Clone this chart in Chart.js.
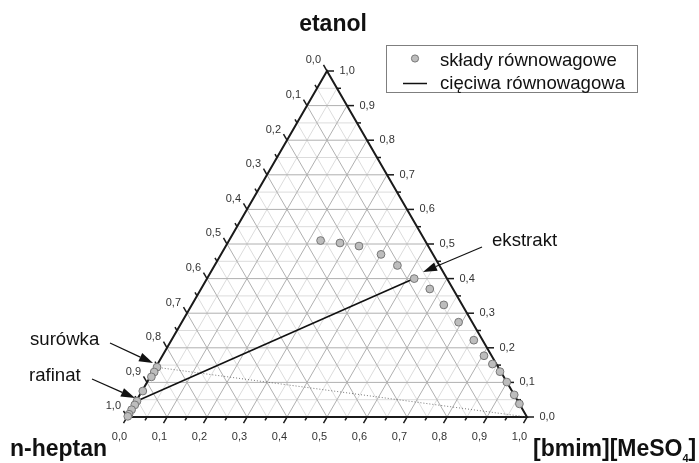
<!DOCTYPE html>
<html>
<head>
<meta charset="utf-8">
<script src="https://cdn.jsdelivr.net/npm/chart.js@4.4.1/dist/chart.umd.min.js"></script>
<style>
  html, body { margin: 0; padding: 0; background: #fff; }
  #wrap { width: 699px; height: 463px; }
</style>
</head>
<body>
<div id="wrap"><canvas id="ternary" width="699" height="463"></canvas></div>
<script>
// Mole fractions: [bmim][MeSO4] (b) and etanol (e), n-heptan = 1 - b - e
const raffinateBmim = [0.003, 0.003, 0.003, 0.002, 0.002, 0.002, 0.001, 0.001, 0.001]
const raffinateEtanol = [0.144, 0.130, 0.116, 0.075, 0.046, 0.035, 0.021, 0.008, 0.002]

const extractBmim = [0.229, 0.281, 0.333, 0.400, 0.457, 0.518, 0.572, 0.630, 0.692, 0.756, 0.804, 0.837, 0.867, 0.899, 0.936, 0.962]
const extractEtanol = [0.510, 0.503, 0.494, 0.470, 0.438, 0.400, 0.370, 0.324, 0.274, 0.222, 0.177, 0.153, 0.131, 0.101, 0.064, 0.038]

// tie line (rafinat -> ekstrakt) and feed line (surówka -> solvent vertex)
const tieLineBmim = [0.002, 0.518]
const tieLineEtanol = [0.046, 0.400]
const feedLineBmim = [0.0, 1.0]
const feedLineEtanol = [0.144, 0.0]

const tickLabels = ['0,0', '0,1', '0,2', '0,3', '0,4', '0,5', '0,6', '0,7', '0,8', '0,9', '1,0']

const H = Math.sqrt(3) / 2
const FONT = '"Liberation Sans", Arial, Helvetica, sans-serif'

// ternary composition -> cartesian data coordinates
function toXY (b, e) {
  return { x: b + e / 2, y: e * H }
}

function buildPoints (bs, es) {
  return bs.map((b, i) => toXY(b, es[i]))
}

const ternaryPlugin = {
  id: 'ternary',
  px (chart, b, e) {
    const p = toXY(b, e)
    return [chart.scales.x.getPixelForValue(p.x), chart.scales.y.getPixelForValue(p.y)]
  },
  line (ctx, a, c) {
    ctx.beginPath()
    ctx.moveTo(a[0], a[1])
    ctx.lineTo(c[0], c[1])
    ctx.stroke()
  },
  beforeDatasetsDraw (chart) {
    const ctx = chart.ctx
    ctx.save()
    // grid, minor first then major
    for (const major of [false, true]) {
      ctx.strokeStyle = major ? '#b0b0b0' : '#dcdcdc'
      ctx.lineWidth = 1
      for (let k = 1; k < 20; k++) {
        if ((k % 2 === 0) !== major) continue
        const v = k / 20
        this.line(ctx, this.px(chart, 0, v), this.px(chart, 1 - v, v))
        this.line(ctx, this.px(chart, v, 0), this.px(chart, v, 1 - v))
        this.line(ctx, this.px(chart, 1 - v, 0), this.px(chart, 0, 1 - v))
      }
    }

    // ticks + labels
    ctx.strokeStyle = '#1a1a1a'
    ctx.fillStyle = '#333'
    ctx.font = '11px ' + FONT
    ctx.lineWidth = 1.5
    for (let k = 0; k <= 20; k++) {
      const v = k / 20
      const len = k % 2 === 0 ? 7 : 4
      const label = k % 2 === 0 ? tickLabels[k / 2] : null

      // bottom axis: [bmim][MeSO4]
      let p = this.px(chart, v, 0)
      let end = [p[0] - 0.5 * len, p[1] + H * len]
      this.line(ctx, p, end)
      if (label) {
        ctx.textAlign = 'center'
        ctx.textBaseline = 'middle'
        ctx.fillText(label, end[0] - 4, end[1] + 13.5)
      }

      // right axis: etanol
      p = this.px(chart, 1 - v, v)
      end = [p[0] + len, p[1]]
      this.line(ctx, p, end)
      if (label) {
        ctx.textAlign = 'left'
        ctx.textBaseline = 'middle'
        ctx.fillText(label, end[0] + 5.5, end[1])
      }

      // left axis: n-heptan (0 at top)
      p = this.px(chart, 0, 1 - v)
      end = [p[0] - 0.5 * len, p[1] - H * len]
      this.line(ctx, p, end)
      if (label) {
        ctx.textAlign = 'right'
        ctx.textBaseline = 'middle'
        ctx.fillText(label, end[0] - 2.5, end[1] - 4.5)
      }
    }

    // triangle
    ctx.lineWidth = 2
    ctx.beginPath()
    const a = this.px(chart, 0, 0)
    const b = this.px(chart, 1, 0)
    const c = this.px(chart, 0, 1)
    ctx.moveTo(a[0], a[1])
    ctx.lineTo(b[0], b[1])
    ctx.lineTo(c[0], c[1])
    ctx.closePath()
    ctx.stroke()
    ctx.restore()
  },
  arrow (ctx, x1, y1, x2, y2) {
    const ang = Math.atan2(y2 - y1, x2 - x1)
    const hl = 14
    const hw = 4.5
    const bx = x2 - hl * Math.cos(ang)
    const by = y2 - hl * Math.sin(ang)
    ctx.beginPath()
    ctx.moveTo(x1, y1)
    ctx.lineTo(bx, by)
    ctx.stroke()
    ctx.beginPath()
    ctx.moveTo(x2, y2)
    ctx.lineTo(bx + hw * Math.sin(ang), by - hw * Math.cos(ang))
    ctx.lineTo(bx - hw * Math.sin(ang), by + hw * Math.cos(ang))
    ctx.closePath()
    ctx.fill()
  },
  afterDraw (chart) {
    const ctx = chart.ctx
    ctx.save()

    // component names
    ctx.fillStyle = '#111'
    ctx.font = 'bold 23px ' + FONT
    ctx.textBaseline = 'alphabetic'
    ctx.textAlign = 'center'
    ctx.fillText('etanol', 333, 31)
    ctx.textAlign = 'left'
    ctx.fillText('n-heptan', 10, 456)
    const base = '[bmim][MeSO'
    ctx.fillText(base, 533, 456)
    let w = ctx.measureText(base).width
    ctx.font = 'bold 11px ' + FONT
    ctx.fillText('4', 533 + w, 462)
    w += ctx.measureText('4').width
    ctx.font = 'bold 23px ' + FONT
    ctx.fillText(']', 533 + w, 456)

    // legend
    ctx.strokeStyle = '#7f7f7f'
    ctx.lineWidth = 1
    ctx.strokeRect(386.5, 45.5, 251, 47)
    ctx.fillStyle = '#bdbdbd'
    ctx.strokeStyle = '#777'
    ctx.beginPath()
    ctx.arc(415, 58.5, 3.6, 0, Math.PI * 2)
    ctx.fill()
    ctx.stroke()
    ctx.strokeStyle = '#111'
    ctx.lineWidth = 1.5
    this.line(ctx, [403, 83.5], [427, 83.5])
    ctx.fillStyle = '#111'
    ctx.font = '18.6px ' + FONT
    ctx.fillText('składy równowagowe', 440, 66)
    ctx.fillText('cięciwa równowagowa', 440, 89)

    // annotations
    ctx.fillText('ekstrakt', 492, 246)
    ctx.fillText('surówka', 30, 345)
    ctx.fillText('rafinat', 29, 381)
    ctx.strokeStyle = '#111'
    ctx.lineWidth = 1.2
    this.arrow(ctx, 482, 247, 423, 272)
    this.arrow(ctx, 110, 343, 153, 363)
    this.arrow(ctx, 92, 379, 135, 398)
    ctx.restore()
  }
}

const equilibriumPoints = buildPoints(raffinateBmim, raffinateEtanol)
  .concat(buildPoints(extractBmim, extractEtanol))

new Chart(document.getElementById('ternary'), {
  type: 'scatter',
  data: {
    datasets: [
      {
        label: 'składy równowagowe',
        data: equilibriumPoints,
        pointStyle: 'circle',
        pointRadius: 3.9,
        backgroundColor: '#bdbdbd',
        borderColor: '#777777',
        borderWidth: 1,
        clip: false
      },
      {
        label: 'cięciwa równowagowa',
        data: buildPoints(tieLineBmim, tieLineEtanol),
        showLine: true,
        borderColor: '#111111',
        borderWidth: 1.6,
        pointRadius: 0,
        clip: false
      },
      {
        label: 'surówka',
        data: buildPoints(feedLineBmim, feedLineEtanol),
        showLine: true,
        borderColor: '#555555',
        borderWidth: 0.8,
        borderDash: [1, 2],
        pointRadius: 0,
        clip: false
      }
    ]
  },
  options: {
    responsive: false,
    animation: false,
    events: [],
    layout: {
      padding: { left: 127, right: 172, top: 71, bottom: 46 }
    },
    scales: {
      x: { type: 'linear', min: 0, max: 1, display: false },
      y: { type: 'linear', min: 0, max: H, display: false }
    },
    plugins: {
      legend: { display: false },
      tooltip: { enabled: false }
    }
  },
  plugins: [ternaryPlugin]
})
</script>
</body>
</html>
